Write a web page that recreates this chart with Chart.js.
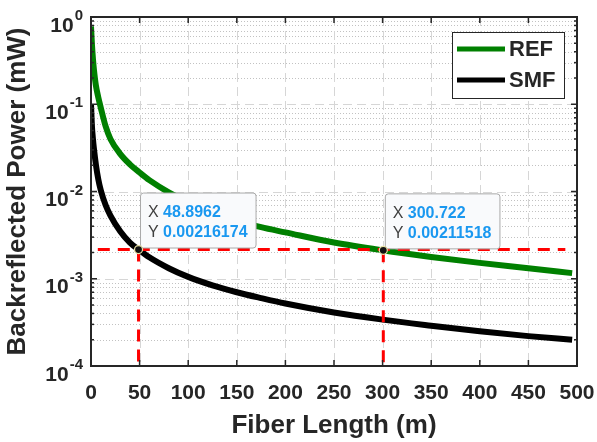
<!DOCTYPE html>
<html>
<head>
<meta charset="utf-8">
<script src="https://cdn.jsdelivr.net/npm/chart.js@4.4.1/dist/chart.umd.min.js"></script>
<style>
body{margin:0;background:#fff;}
#wrap{width:597px;height:442px;}
</style>
</head>
<body>
<div id="wrap"><canvas id="powerChart" width="597" height="442"></canvas></div>
<script>
// values
const lengths  = [0, 1, 2, 3, 5, 7.5, 10, 15, 20, 30, 40, 50, 60, 80, 100, 125, 150, 175, 200, 250, 300, 350, 400, 450, 495];
const refPower = [0.78, 0.48, 0.33, 0.25, 0.165, 0.12, 0.092, 0.056, 0.040, 0.027, 0.0205, 0.0165, 0.0135, 0.0098, 0.0076, 0.0058, 0.0047, 0.0039, 0.0034, 0.0026, 0.00212, 0.00178, 0.00152, 0.00132, 0.00116];
const smfPower = [0.10, 0.055, 0.040, 0.031, 0.0205, 0.0138, 0.0104, 0.0070, 0.0053, 0.0035, 0.0026, 0.00212, 0.00176, 0.00132, 0.00105, 0.00084, 0.00070, 0.00060, 0.00052, 0.00041, 0.00034, 0.00029, 0.00025, 0.00022, 0.000200];
const seriesNames  = ['REF', 'SMF'];
const seriesColors = ['#008000', '#000000'];

// data tips
const tipX = [48.8962, 300.722];
const tipY = [0.00216174, 0.00211518];
const tipTextX = ['48.8962', '300.722'];
const tipTextY = ['0.00216174', '0.00211518'];
const guideX = [7, 488];   // extent of the horizontal red guide

const xTicks = [0, 50, 100, 150, 200, 250, 300, 350, 400, 450, 500];
const yExps  = [0, -1, -2, -3, -4];

const FONT = '"Liberation Sans", Arial, Helvetica, sans-serif';
const AXIS = '#262626';
Chart.defaults.font.family = FONT;

function pts(xs, ys){
	return xs.map(function(x, i){ return {x: x, y: ys[i]}; });
}

let yMin = Math.pow(10, Math.min.apply(null, yExps));
let yMax = Math.pow(10, Math.max.apply(null, yExps));
const GUIDE_IDX = 4;

// chart.js paints datasets from highest order to lowest, so order 0 ends on top
let datasets = [
	{label: seriesNames[0], order: 6, data: pts(lengths, refPower), borderColor: seriesColors[0], borderWidth: 6, pointRadius: 0, cubicInterpolationMode: 'monotone'},
	{label: seriesNames[1], order: 5, data: pts(lengths, smfPower), borderColor: seriesColors[1], borderWidth: 6, pointRadius: 0, cubicInterpolationMode: 'monotone'},
	{label: 'guideH', order: 4, data: pts(guideX, [tipY[0], tipY[0]]), borderColor: '#ff0000', borderWidth: 3, borderDash: [12, 8], pointRadius: 0},
	{label: 'guideV1', order: 3, data: pts([tipX[0], tipX[0]], [tipY[0], yMin]), borderColor: '#ff0000', borderWidth: 3, borderDash: [12, 8], pointRadius: 0},
	{label: 'guideV2', order: 2, data: pts([tipX[1], tipX[1]], [tipY[1], yMin]), borderColor: '#ff0000', borderWidth: 3, borderDash: [12, 8], pointRadius: 0},
	{label: 'tips', order: 0, data: pts(tipX, tipY), showLine: false, pointRadius: 4, pointBackgroundColor: '#111', pointBorderColor: '#e9e3a8', pointBorderWidth: 1.2}
];

function line(ctx, x1, y1, x2, y2){
	ctx.beginPath(); ctx.moveTo(x1, y1); ctx.lineTo(x2, y2); ctx.stroke();
}

function drawTip(ctx, px, py, tx, ty){
	ctx.save();
	ctx.font = 'bold 16px ' + FONT;
	let w = 23 + Math.max(ctx.measureText(tx).width, ctx.measureText(ty).width) + 8;
	let h = 55;
	let bx = px + 1.5, by = py - 2 - h;
	ctx.fillStyle = 'rgb(249,250,252)';
	ctx.strokeStyle = '#a9a9a9';
	ctx.lineWidth = 1;
	ctx.beginPath();
	ctx.roundRect(bx + 0.5, by + 0.5, w, h, 3);
	ctx.fill(); ctx.stroke();
	ctx.textBaseline = 'alphabetic';
	ctx.textAlign = 'left';
	ctx.font = '16px ' + FONT;
	ctx.fillStyle = '#404040';
	ctx.fillText('X', bx + 8, by + 24.5);
	ctx.fillText('Y', bx + 8, by + 44.5);
	ctx.font = 'bold 16px ' + FONT;
	ctx.fillStyle = '#1a98f0';
	ctx.fillText(tx, bx + 23, by + 24.5);
	ctx.fillText(ty, bx + 23, by + 44.5);
	ctx.restore();
}

const matlabAxes = {
	id: 'matlabAxes',
	beforeDatasetsDraw(chart){
		const {ctx, chartArea: a, scales: {x, y}} = chart;
		ctx.save();
		ctx.lineWidth = 1;
		// minor log grid (dotted)
		ctx.strokeStyle = '#c2c2c2';
		ctx.setLineDash([1, 2]);
		yExps.forEach(function(e){
			if (Math.pow(10, e) >= yMax) return;
			for (let m = 2; m <= 9; m++) {
				let py = Math.round(y.getPixelForValue(m * Math.pow(10, e))) + 0.5;
				line(ctx, a.left, py, a.right, py);
			}
		});
		// major grid (dashed)
		ctx.strokeStyle = '#d6d6d6';
		ctx.setLineDash([9, 5]);
		yExps.forEach(function(e){
			let v = Math.pow(10, e);
			if (v >= yMax || v <= yMin) return;
			let py = Math.round(y.getPixelForValue(v)) + 0.5;
			line(ctx, a.left, py, a.right, py);
		});
		xTicks.forEach(function(v){
			if (v === x.min || v === x.max) return;
			let px = Math.round(x.getPixelForValue(v)) + 0.5;
			line(ctx, px, a.top, px, a.bottom);
		});
		ctx.restore();
	},
	afterDatasetDraw(chart, args){
		// tip boxes go above the guides but under the tip markers
		if (args.index !== GUIDE_IDX) return;
		const {ctx, scales: {x, y}} = chart;
		tipX.forEach(function(v, i){
			drawTip(ctx, x.getPixelForValue(v), y.getPixelForValue(tipY[i]), tipTextX[i], tipTextY[i]);
		});
	},
	afterDraw(chart){
		const {ctx, chartArea: a, scales: {x, y}} = chart;
		ctx.save();
		ctx.strokeStyle = AXIS;
		ctx.lineWidth = 2;
		ctx.setLineDash([]);
		ctx.strokeRect(a.left, a.top, a.right - a.left, a.bottom - a.top);

		// inward tick marks
		ctx.lineWidth = 1.5;
		xTicks.forEach(function(v){
			let px = x.getPixelForValue(v);
			line(ctx, px, a.bottom, px, a.bottom - 6);
			line(ctx, px, a.top, px, a.top + 6);
		});
		yExps.forEach(function(e){
			let py = y.getPixelForValue(Math.pow(10, e));
			line(ctx, a.left, py, a.left + 6, py);
			line(ctx, a.right, py, a.right - 6, py);
			if (Math.pow(10, e) >= yMax) return;
			for (let m = 2; m <= 9; m++) {
				let pm = y.getPixelForValue(m * Math.pow(10, e));
				line(ctx, a.left, pm, a.left + 3, pm);
				line(ctx, a.right, pm, a.right - 3, pm);
			}
		});

		// y tick labels 10^n
		ctx.fillStyle = AXIS;
		ctx.textAlign = 'right';
		ctx.textBaseline = 'alphabetic';
		let rx = a.left - 8;
		yExps.forEach(function(e){
			let py = y.getPixelForValue(Math.pow(10, e));
			ctx.font = 'bold 15px ' + FONT;
			let ex = String(e);
			let ew = ctx.measureText(ex).width;
			ctx.fillText(ex, rx, py + 3);
			ctx.font = 'bold 21px ' + FONT;
			ctx.fillText('10', rx - ew - 1, py + 14.5);
		});

		// axis titles
		ctx.font = 'bold 26px ' + FONT;
		ctx.textAlign = 'center';
		ctx.fillText('Fiber Length (m)', (a.left + a.right) / 2, 433);
		ctx.save();
		ctx.translate(17.5, (a.top + a.bottom) / 2);
		ctx.rotate(-Math.PI / 2);
		ctx.textBaseline = 'middle';
		ctx.fillText('Backreflected Power (mW)', 0, 0);
		ctx.restore();

		// legend box
		let lx = 452, ly = 32, lw = 112, lh = 66;
		ctx.fillStyle = '#fff';
		ctx.fillRect(lx, ly, lw, lh);
		ctx.strokeStyle = AXIS;
		ctx.lineWidth = 1;
		ctx.strokeRect(lx + 0.5, ly + 0.5, lw, lh);
		ctx.font = 'bold 22px ' + FONT;
		ctx.textAlign = 'left';
		ctx.textBaseline = 'middle';
		chart.data.datasets.slice(0, 2).forEach(function(ds, i){
			let yy = ly + 17 + i * 31;
			ctx.strokeStyle = ds.borderColor;
			ctx.lineWidth = 5;
			line(ctx, lx + 5, yy, lx + 53, yy);
			ctx.fillStyle = AXIS;
			ctx.fillText(ds.label, lx + 57, yy + 1);
		});
		ctx.restore();
	}
};

let chart = new Chart(document.getElementById('powerChart'), {
	type: 'line',
	data: {datasets: datasets},
	options: {
		responsive: false,
		animation: false,
		devicePixelRatio: 1,
		layout: {padding: {left: 0, right: 20, top: 17, bottom: 0}},
		plugins: {legend: {display: false}, tooltip: {enabled: false}},
		scales: {
			x: {
				type: 'linear', min: 0, max: 500,
				grid: {display: false}, border: {display: false},
				afterBuildTicks: function(s){ s.ticks = xTicks.map(function(v){ return {value: v}; }); },
				afterFit: function(s){ s.height = 76; s.paddingLeft = 0; s.paddingRight = 0; },
				ticks: {autoSkip: false, maxRotation: 0, padding: 7, color: AXIS, font: {size: 21, weight: 'bold'}}
			},
			y: {
				type: 'logarithmic', min: yMin, max: yMax,
				grid: {display: false}, border: {display: false},
				afterBuildTicks: function(s){ s.ticks = yExps.map(function(e){ return {value: Math.pow(10, e)}; }); },
				afterFit: function(s){ s.width = 91; s.paddingTop = 0; s.paddingBottom = 0; },
				ticks: {display: false}
			}
		}
	},
	plugins: [matlabAxes]
});
</script>
</body>
</html>
